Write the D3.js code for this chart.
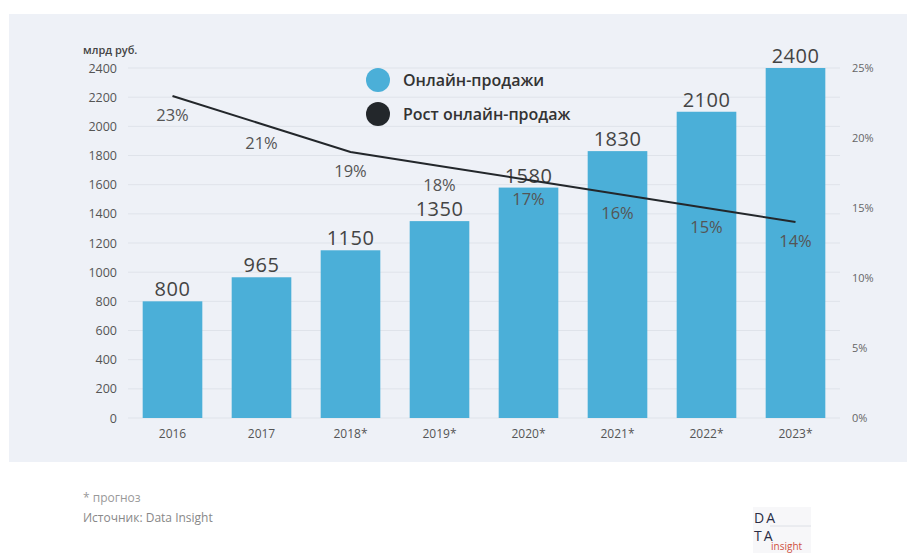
<!DOCTYPE html>
<html>
<head>
<meta charset="utf-8">
<script src="https://cdn.jsdelivr.net/npm/d3@7"></script>
<style>
  body { margin: 0; background: #fff; }
  text { font-family: "Open Sans", "Noto Sans", sans-serif; }
</style>
</head>
<body>
<div id="chart"></div>
<script>
const years = ["2016", "2017", "2018*", "2019*", "2020*", "2021*", "2022*", "2023*"];
const sales = [800, 965, 1150, 1350, 1580, 1830, 2100, 2400];
const growth = [23, 21, 19, 18, 17, 16, 15, 14];
const leftTicks = [0, 200, 400, 600, 800, 1000, 1200, 1400, 1600, 1800, 2000, 2200, 2400];
const rightTicks = [0, 5, 10, 15, 20, 25];
const legendItems = ["Онлайн-продажи", "Рост онлайн-продаж"];

const W = 907, H = 553;
const margin = { top: 68, left: 128, right: 67, bottom: 135 };
const blue = "#4bafd8";
const dark = "#23272b";

const svg = d3.select("#chart")
  .append("svg")
  .attr("width", W)
  .attr("height", H);

// panel background
svg.append("rect")
  .attr("x", 9).attr("y", 14)
  .attr("width", W - 9).attr("height", 448)
  .attr("fill", "#eef1f7");

const x = d3.scaleBand()
  .domain(years)
  .range([margin.left, W - margin.right])
  .paddingInner(0.33)
  .paddingOuter(0.165);

const y = d3.scaleLinear()
  .domain([0, 2400])
  .range([H - margin.bottom, margin.top]);

const y2 = d3.scaleLinear()
  .domain([0, 25])
  .range([H - margin.bottom, margin.top]);

// grid lines
svg.append("g")
  .selectAll("line")
  .data(leftTicks)
  .join("line")
  .attr("x1", margin.left)
  .attr("x2", W - margin.right)
  .attr("y1", d => y(d))
  .attr("y2", d => y(d))
  .attr("stroke", "#dfe3ea")
  .attr("stroke-width", 1);

// left axis
const leftAxis = svg.append("g")
  .attr("transform", `translate(${margin.left - 11},0)`)
  .call(d3.axisLeft(y).tickValues(leftTicks).tickSize(0).tickPadding(0).tickFormat(d3.format("d")));
leftAxis.select(".domain").remove();
leftAxis.selectAll("text")
  .attr("font-size", 12.5)
  .attr("fill", "#555")
  .attr("font-family", "Open Sans, sans-serif");

// right axis
const rightAxis = svg.append("g")
  .attr("transform", `translate(${W - margin.right + 12},0)`)
  .call(d3.axisRight(y2).tickValues(rightTicks).tickSize(0).tickPadding(0).tickFormat(d => d + "%"));
rightAxis.select(".domain").remove();
rightAxis.selectAll("text")
  .attr("font-size", 11)
  .attr("fill", "#666")
  .attr("font-family", "Open Sans, sans-serif");

// bottom axis
const bottomAxis = svg.append("g")
  .attr("transform", `translate(0,${H - margin.bottom + 11})`)
  .call(d3.axisBottom(x).tickSize(0).tickPadding(0));
bottomAxis.select(".domain").remove();
bottomAxis.selectAll("text")
  .attr("font-size", 12)
  .attr("fill", "#555")
  .attr("font-family", "Open Sans, sans-serif");

// unit label
svg.append("text")
  .attr("x", 83).attr("y", 54)
  .attr("font-size", 11)
  .attr("font-weight", 600)
  .attr("fill", "#444")
  .text("млрд руб.");

// bars
svg.append("g")
  .selectAll("rect")
  .data(sales)
  .join("rect")
  .attr("x", (d, i) => x(years[i]))
  .attr("y", d => y(d))
  .attr("width", x.bandwidth())
  .attr("height", d => y(0) - y(d))
  .attr("fill", blue);

// bar value labels
svg.append("g")
  .selectAll("text")
  .data(sales)
  .join("text")
  .attr("x", (d, i) => x(years[i]) + x.bandwidth() / 2)
  .attr("y", d => y(d) - 5)
  .attr("text-anchor", "middle")
  .attr("font-size", 20)
  .attr("fill", "#444")
  .attr("letter-spacing", 0.5)
  .text(d => d);

// growth line
const line = d3.line()
  .x((d, i) => x(years[i]) + x.bandwidth() / 2)
  .y(d => y2(d));

svg.append("path")
  .datum(growth)
  .attr("d", line)
  .attr("fill", "none")
  .attr("stroke", dark)
  .attr("stroke-width", 2);

// growth labels
svg.append("g")
  .selectAll("text")
  .data(growth)
  .join("text")
  .attr("x", (d, i) => x(years[i]) + x.bandwidth() / 2)
  .attr("y", d => y2(d) + 25)
  .attr("text-anchor", "middle")
  .attr("font-size", 16.5)
  .attr("fill", "#555")
  .text(d => d + "%");

// legend
const legend = svg.append("g")
  .selectAll("g")
  .data(legendItems)
  .join("g")
  .attr("transform", (d, i) => `translate(378,${80 + i * 34})`);
legend.append("circle")
  .attr("r", 12)
  .attr("fill", (d, i) => i === 0 ? blue : dark);
legend.append("text")
  .attr("x", 25)
  .attr("y", 6)
  .attr("font-size", 16)
  .attr("font-weight", 600)
  .attr("fill", "#333")
  .text(d => d);

// footnotes
svg.append("text")
  .attr("x", 83).attr("y", 502)
  .attr("font-size", 12)
  .attr("font-family", "Liberation Sans, Arial, sans-serif")
  .attr("fill", "#999")
  .text("* прогноз");
svg.append("text")
  .attr("x", 83).attr("y", 522)
  .attr("font-size", 12)
  .attr("font-family", "Liberation Sans, Arial, sans-serif")
  .attr("fill", "#888")
  .text("Источник: Data Insight");

// logo
const logo = svg.append("g").attr("transform", "translate(753,507)");
logo.append("rect")
  .attr("width", 58).attr("height", 46)
  .attr("fill", "#f7f7f9");
logo.append("line")
  .attr("x1", 17).attr("x2", 58)
  .attr("y1", 19).attr("y2", 19)
  .attr("stroke", "#dde0e6");
logo.append("text")
  .attr("x", 1).attr("y", 16)
  .attr("font-size", 14)
  .attr("fill", "#2a2d45")
  .attr("letter-spacing", 2)
  .text("DA");
logo.append("text")
  .attr("x", 1).attr("y", 34)
  .attr("font-size", 14)
  .attr("fill", "#2a2d45")
  .attr("letter-spacing", 2)
  .text("TA");
logo.append("text")
  .attr("x", 18).attr("y", 43)
  .attr("font-size", 10)
  .attr("fill", "#d0523f")
  .text("insight");
</script>
</body>
</html>
